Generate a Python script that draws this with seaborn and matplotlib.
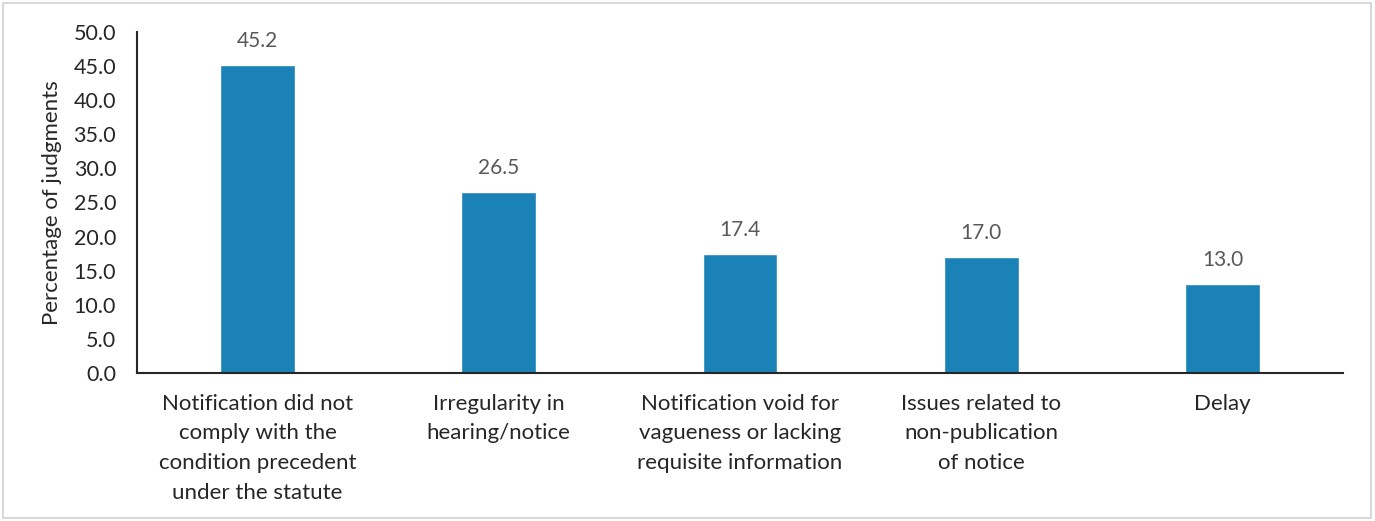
import matplotlib
matplotlib.use("Agg")
import matplotlib.pyplot as plt
import seaborn as sns
import pandas as pd
from matplotlib.patches import Rectangle

categories = [
    "Notification did not\ncomply with the\ncondition precedent\nunder the statute",
    "Irregularity in\nhearing/notice",
    "Notification void for\nvagueness or lacking\nrequisite information",
    "Issues related to\nnon-publication\nof notice",
    "Delay",
]
values = [45.2, 26.5, 17.4, 17.0, 13.0]
yticks = [0, 5, 10, 15, 20, 25, 30, 35, 40, 45, 50]

sns.set_theme(style="white")
plt.rcParams['font.family'] = ['Lato', 'DejaVu Sans']

df = pd.DataFrame({"cat": categories, "val": values})

fig = plt.figure(figsize=(13.75, 5.21), dpi=100)
ax = fig.add_axes([137/1375, 1-373/521, (1343-137)/1375, (373-32)/521])

sns.barplot(data=df, x="cat", y="val", color="#1a82b6", saturation=1, width=0.31, ax=ax)

ax.set_ylim(0, 50)
ax.set_xlim(-0.5, 4.5)
ax.set_yticks(yticks)
ax.set_yticklabels([f"{t:.1f}" for t in yticks], fontsize=15.5, color="#262626")
ax.tick_params(axis='x', labelsize=16, labelcolor="#262626", pad=15, length=0)
ax.tick_params(axis='y', pad=15, length=0)
ax.set_xlabel("")
ax.set_ylabel("Percentage of judgments", fontsize=16, color="#262626", labelpad=8)

for lbl in ax.get_xticklabels():
    lbl.set_linespacing(1.6)

for i, v in enumerate(values):
    ax.annotate(f"{v:.1f}", (i, v), xytext=(0, 10), textcoords="offset points",
                ha="center", va="bottom", fontsize=15, color="#595959")

for s in ["top", "right"]:
    ax.spines[s].set_visible(False)
for s in ["left", "bottom"]:
    ax.spines[s].set_color("#262626")
    ax.spines[s].set_linewidth(1.5)

fig.patches.append(Rectangle((3/1375, 3/521), 1368/1375, 515/521, transform=fig.transFigure,
                             fill=False, edgecolor="#d9d9d9", linewidth=1.5))

fig.savefig("out.png", dpi=100)
